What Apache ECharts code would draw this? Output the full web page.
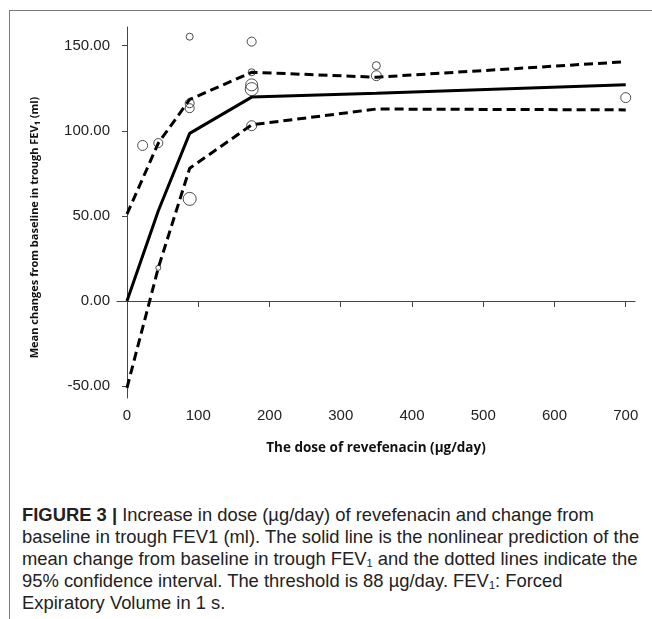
<!DOCTYPE html>
<html>
<head>
<meta charset="utf-8">
<script src="https://cdn.jsdelivr.net/npm/echarts@6/dist/echarts.min.js"></script>
<style>
  html, body { margin: 0; padding: 0; background: #fff; }
  #page { position: relative; width: 652px; height: 619px; overflow: hidden; }
  #frame { position: absolute; left: 9px; top: 10px; width: 700px; height: 700px;
    border-top: 1.5px solid #7a7a7a; border-left: 1.5px solid #7a7a7a; }
  #chart { position: absolute; left: 0; top: 0; width: 652px; height: 470px; }
  #caption { position: absolute; left: 22px; top: 504px; width: 628px;
    font-family: 'Liberation Sans', Arial, sans-serif; font-size: 18.4px; line-height: 22px; color: #222; }
  #caption div { white-space: nowrap; }
  #caption sub { font-size: 11px; vertical-align: -2px; line-height: 0; }
</style>
</head>
<body>
<div id="page">
  <div id="frame"></div>
  <div id="chart"></div>
  <div id="caption">
    <div><b>FIGURE 3 |</b> Increase in dose (µg/day) of revefenacin and change from</div>
    <div>baseline in trough FEV1 (ml). The solid line is the nonlinear prediction of the</div>
    <div>mean change from baseline in trough FEV<sub>1</sub> and the dotted lines indicate the</div>
    <div>95% confidence interval. The threshold is 88 µg/day. FEV<sub>1</sub>: Forced</div>
    <div>Expiratory Volume in 1 s.</div>
  </div>
</div>
<script>
// model curves (dose in µg/day, change in ml)
const curveDose = [0, 44, 88, 175, 350, 700];
const meanPred = [0, 53, 98.5, 119.8, 122, 127];
const upperCI = [51, 92.8, 118.4, 134.4, 131.5, 140.6];
const lowerCI = [-51, 19.5, 78, 103.5, 112.8, 112.3];

// observed study means
const obsDose = [22, 44, 44, 88, 88, 88, 88, 175, 175, 175, 175, 175, 350, 350, 700];
const obsChange = [91.4, 92.8, 19.5, 155.3, 116.2, 113.3, 60, 152.4, 134.4, 127, 124.5, 103, 138.3, 132.4, 119.5];

const xTicks = [0, 100, 200, 300, 400, 500, 600, 700];
const yTicks = [-50, 0, 50, 100, 150];

// circle diameters as drawn in the figure
const obsSizes = [10, 9, 5, 7, 9, 9, 13, 9, 7, 12, 13, 10, 8, 10, 10];

const zip = (xs, ys) => xs.map((x, i) => [x, ys[i]]);

const chart = echarts.init(document.getElementById('chart'));

const axisText = { color: '#222', fontFamily: 'Liberation Sans, Arial, sans-serif', fontSize: 15 };
const titleFont = { color: '#111', fontFamily: 'Open Sans, sans-serif', fontWeight: 'bold' };

const lineSeries = (name, data, type) => ({
  name,
  type: 'line',
  data,
  symbol: 'none',
  silent: true,
  lineStyle: { color: '#000', width: 3, type, cap: 'butt' },
  z: 2,
});

chart.setOption({
  animation: false,
  grid: { left: 117, right: 17, top: 27, bottom: 72 },
  xAxis: {
    type: 'value',
    min: -14,
    max: 713,
    name: 'The dose of revefenacin (µg/day)',
    nameLocation: 'middle',
    nameGap: 43,
    nameTextStyle: { ...titleFont, fontSize: 13.5 },
    axisLine: { show: true, lineStyle: { color: '#444', width: 1 } },
    axisTick: { show: true, length: 6, customValues: xTicks, lineStyle: { color: '#444' } },
    axisLabel: { customValues: xTicks, margin: 10, ...axisText },
    splitLine: { show: false },
  },
  yAxis: {
    type: 'value',
    min: -57,
    max: 161,
    name: 'Mean changes from baseline in trough FEV₁ (ml)',
    nameLocation: 'middle',
    nameGap: 77,
    nameTextStyle: { ...titleFont, fontSize: 11, padding: [0, 30, 0, 0] },
    axisLine: { show: true, lineStyle: { color: '#444', width: 1 } },
    axisTick: { show: true, length: 5, customValues: yTicks, lineStyle: { color: '#444' } },
    axisLabel: { customValues: yTicks, margin: 7, formatter: (v) => v.toFixed(2), ...axisText },
    splitLine: { show: false },
  },
  series: [
    lineSeries('Mean prediction', zip(curveDose, meanPred), 'solid'),
    lineSeries('Upper 95% CI', zip(curveDose, upperCI), [9, 5]),
    lineSeries('Lower 95% CI', zip(curveDose, lowerCI), [9, 5]),
    {
      name: 'Observed',
      type: 'scatter',
      data: zip(obsDose, obsChange),
      symbol: 'circle',
      symbolSize: (val, params) => obsSizes[params.dataIndex],
      itemStyle: { color: 'rgba(255,255,255,0)', borderColor: '#222', borderWidth: 1 },
      z: 3,
    },
  ],
});
</script>
</body>
</html>
